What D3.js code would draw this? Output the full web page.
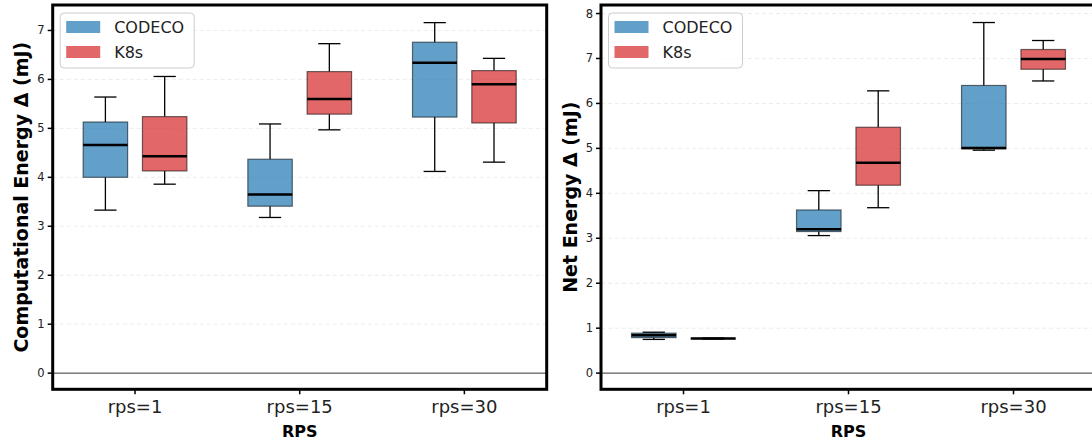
<!DOCTYPE html>
<html>
<head>
<meta charset="utf-8">
<script src="https://cdn.jsdelivr.net/npm/d3@7"></script>
<style>
  body { margin: 0; background: #fff; }
  svg { font-family: 'DejaVu Sans', sans-serif; display: block; }
</style>
</head>
<body>
<svg id="chart" width="1092" height="447"></svg>
<script>
const categories = ['rps=1', 'rps=15', 'rps=30'];
const seriesNames = ['CODECO', 'K8s'];
const colors = {CODECO: '#1f77b4', K8s: '#d62728'};

// [whisker low, q1, median, q3, whisker high]
const compCodeco = [[3.33, 4.00, 4.66, 5.13, 5.64], [3.18, 3.41, 3.65, 4.37, 5.09], [4.12, 5.23, 6.34, 6.76, 7.16]];
const compK8s    = [[3.86, 4.13, 4.43, 5.24, 6.06], [4.97, 5.29, 5.60, 6.16, 6.73], [4.31, 5.11, 5.90, 6.18, 6.43]];
const netCodeco  = [[0.75, 0.79, 0.84, 0.89, 0.91], [3.06, 3.15, 3.20, 3.63, 4.06], [4.96, 4.99, 5.01, 6.40, 7.80]];
const netK8s     = [[0.76, 0.765, 0.77, 0.775, 0.78], [3.68, 4.18, 4.68, 5.47, 6.28], [6.50, 6.76, 6.99, 7.20, 7.40]];

const compTicks = [0, 1, 2, 3, 4, 5, 6, 7];
const netTicks = [0, 1, 2, 3, 4, 5, 6, 7, 8];

const svg = d3.select('#chart');

const drawPanel = (opts) => {
    const {left, right, top, bottom, yDomain, ticks, codeco, k8s, yLabel, yLabelX} = opts;
    const g = svg.append('g');
    const x = d3.scaleLinear().domain([-0.5, 2.5]).range([left, right]);
    const y = d3.scaleLinear().domain(yDomain).range([bottom, top]);

    // grid
    g.selectAll('.grid').data(ticks.filter(t => t !== 0)).enter().append('line')
        .attr('x1', left).attr('x2', right)
        .attr('y1', d => y(d)).attr('y2', d => y(d))
        .attr('stroke', '#b0b0b0').attr('stroke-opacity', 0.3)
        .attr('stroke-dasharray', '4,3').attr('stroke-width', 0.8);

    // zero line
    g.append('line')
        .attr('x1', left).attr('x2', right)
        .attr('y1', y(0)).attr('y2', y(0))
        .attr('stroke', '#000').attr('stroke-width', 0.8);

    const boxW = 0.27;
    const offsets = [-0.18, 0.18];
    [codeco, k8s].forEach((series, si) => {
        const col = colors[seriesNames[si]];
        series.forEach((s, ci) => {
            const cx = x(ci + offsets[si]);
            const hw = (x(boxW) - x(0)) / 2;
            const [lo, q1, med, q3, hi] = s;
            const b = g.append('g');
            // whiskers
            b.append('line').attr('x1', cx).attr('x2', cx).attr('y1', y(q3)).attr('y2', y(hi))
                .attr('stroke', '#000').attr('stroke-width', 1.3);
            b.append('line').attr('x1', cx).attr('x2', cx).attr('y1', y(q1)).attr('y2', y(lo))
                .attr('stroke', '#000').attr('stroke-width', 1.3);
            [lo, hi].forEach(v => {
                b.append('line').attr('x1', cx - hw / 2).attr('x2', cx + hw / 2)
                    .attr('y1', y(v)).attr('y2', y(v))
                    .attr('stroke', '#000').attr('stroke-width', 1.3);
            });
            // box
            b.append('rect')
                .attr('x', cx - hw).attr('width', hw * 2)
                .attr('y', y(q3)).attr('height', Math.max(0.5, y(q1) - y(q3)))
                .attr('fill', col).attr('fill-opacity', 0.7)
                .attr('stroke', '#000').attr('stroke-opacity', 0.55).attr('stroke-width', 1.2);
            // median
            b.append('line').attr('x1', cx - hw).attr('x2', cx + hw)
                .attr('y1', y(med)).attr('y2', y(med))
                .attr('stroke', '#000').attr('stroke-width', 2.5);
        });
    });

    // frame
    g.append('rect')
        .attr('x', left).attr('y', top)
        .attr('width', right - left).attr('height', bottom - top)
        .attr('fill', 'none').attr('stroke', '#000').attr('stroke-width', 3);

    // y ticks
    g.selectAll('.yt').data(ticks).enter().append('line')
        .attr('x1', left - 5).attr('x2', left)
        .attr('y1', d => y(d)).attr('y2', d => y(d))
        .attr('stroke', '#000').attr('stroke-width', 1.5);
    g.selectAll('.ytl').data(ticks).enter().append('text')
        .attr('x', left - 8).attr('y', d => y(d) + 4)
        .attr('text-anchor', 'end').attr('font-size', 11.5).attr('fill', '#222')
        .text(d => d);

    // x ticks
    g.selectAll('.xt').data(categories).enter().append('line')
        .attr('x1', (d, i) => x(i)).attr('x2', (d, i) => x(i))
        .attr('y1', bottom).attr('y2', bottom + 5)
        .attr('stroke', '#000').attr('stroke-width', 1.5);
    g.selectAll('.xtl').data(categories).enter().append('text')
        .attr('x', (d, i) => x(i)).attr('y', bottom + 24)
        .attr('text-anchor', 'middle').attr('font-size', 18).attr('fill', '#222')
        .text(d => d);

    g.append('text')
        .attr('x', x(1)).attr('y', bottom + 48)
        .attr('text-anchor', 'middle').attr('font-size', 16).attr('font-weight', 'bold')
        .text('RPS');

    g.append('text')
        .attr('transform', `translate(${yLabelX}, ${(top + bottom) / 2}) rotate(-90)`)
        .attr('text-anchor', 'middle').attr('font-size', 19).attr('font-weight', 'bold')
        .text(yLabel);

    // legend
    const lg = g.append('g').attr('transform', `translate(${left + 7.5}, 13)`);
    lg.append('rect').attr('width', 134).attr('height', 55).attr('rx', 4)
        .attr('fill', '#fff').attr('fill-opacity', 0.8)
        .attr('stroke', '#ccc').attr('stroke-width', 1);
    seriesNames.forEach((name, i) => {
        lg.append('rect').attr('x', 6).attr('y', 8 + i * 25).attr('width', 34).attr('height', 12)
            .attr('fill', colors[name]).attr('fill-opacity', 0.7);
        lg.append('text').attr('x', 54).attr('y', 20 + i * 25)
            .attr('font-size', 16).attr('fill', '#222').text(name);
    });
};

drawPanel({
    left: 52.7, right: 546.7, top: 5, bottom: 389.3,
    yDomain: [-0.33, 7.52], ticks: compTicks,
    codeco: compCodeco, k8s: compK8s,
    yLabel: 'Computational Energy Δ (mJ)', yLabelX: 28
});

drawPanel({
    left: 601, right: 1096, top: 5, bottom: 389.3,
    yDomain: [-0.36, 8.19], ticks: netTicks,
    codeco: netCodeco, k8s: netK8s,
    yLabel: 'Net Energy Δ (mJ)', yLabelX: 577
});
</script>
</body>
</html>
